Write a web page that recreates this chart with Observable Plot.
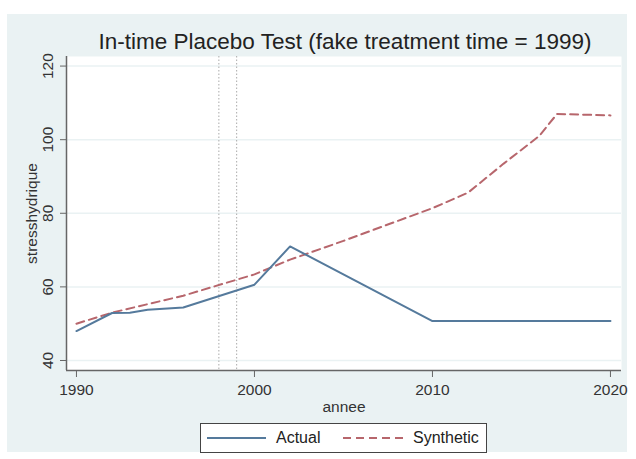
<!DOCTYPE html>
<html><head><meta charset="utf-8">
<script src="https://cdn.jsdelivr.net/npm/d3@7"></script>
<script src="https://cdn.jsdelivr.net/npm/@observablehq/plot@0.6"></script>
<style>
body{margin:0;background:#fff;font-family:"Liberation Sans",Arial,sans-serif;}
#wrap{position:relative;width:636px;height:459px;overflow:hidden;}
#panel{position:absolute;left:7px;top:14px;width:620px;height:438px;background:#eaf2f3;}
#title{position:absolute;left:0;top:29px;width:636px;padding-left:54px;box-sizing:border-box;text-align:center;font-size:22.5px;color:#222;}
#chart{position:absolute;left:0;top:0;}
#legend{position:absolute;left:200px;top:423px;width:285px;height:28px;background:#fff;border:1px solid #444;font-size:16px;color:#222;}
#legend span{position:absolute;top:5px;}
#legend svg{position:absolute;top:0;}
</style></head>
<body><div id="wrap"><div id="panel"></div><div id="chart"></div><div id="title">In-time Placebo Test (fake treatment time = 1999)</div>
<div id="legend"></div></div>
<script>
const actualYears = [1990, 1992, 1993, 1994, 1996, 2000, 2002, 2010, 2020];
const actualValues = [48, 52.9, 53, 53.8, 54.4, 60.6, 71, 50.7, 50.7];
const synthYears = [1990, 1992, 1996, 2000, 2002, 2005, 2010, 2012, 2014, 2016, 2017, 2020];
const synthValues = [50, 53, 57.6, 63.4, 67.4, 72.5, 81.4, 85.6, 93.5, 101, 107, 106.6];
const xTicks = [1990, 2000, 2010, 2020];
const yTicks = [40, 60, 80, 100, 120];
const vLines = [1998, 1999];
const xDomain = [1989.44, 2020.62];
const yDomain = [37.28, 122.6];
const xLabel = "annee";
const yLabel = "stresshydrique";

const actual = actualYears.map((y, i) => ({year: y, value: actualValues[i]}));
const synth = synthYears.map((y, i) => ({year: y, value: synthValues[i]}));

const cActual = "#557a9c", cSynth = "#b7666c";
const font = "Liberation Sans, Arial, sans-serif";

const chart = Plot.plot({
  width: 636, height: 459,
  marginLeft: 66, marginRight: 15, marginTop: 56, marginBottom: 89,
  style: {background: "transparent", fontFamily: font, fontSize: "15.5px", color: "#333"},
  x: {domain: xDomain},
  y: {domain: yDomain},
  marks: [
    Plot.frame({fill: "white", stroke: null}),
    Plot.gridY(yTicks, {stroke: "#eaf2f3", strokeOpacity: 1, strokeWidth: 1.5}),
    Plot.ruleX(vLines, {stroke: "#aaa", strokeDasharray: "1.5,2", strokeWidth: 1}),
    Plot.ruleX([xDomain[0]], {stroke: "#666", strokeWidth: 1.5}),
    Plot.ruleY([yDomain[0]], {stroke: "#666", strokeWidth: 1.5}),
    Plot.axisX({ticks: xTicks, tickFormat: d => String(d), tickSize: 7, tickPadding: 6, stroke: "#666", label: null, fill: "#333", fontSize: 15.5}),
    Plot.axisY({ticks: yTicks, tickSize: 6, tickFormat: () => "", stroke: "#666", label: null}),
    Plot.text(yTicks, {y: d => d, text: d => String(d), frameAnchor: "left", dx: -18.5, rotate: -90, textAnchor: "middle", lineAnchor: "middle", fill: "#333", fontSize: 15.5}),
    Plot.text([yLabel], {text: d => d, frameAnchor: "left", dx: -34, rotate: -90, textAnchor: "middle", lineAnchor: "middle", fill: "#333", fontSize: 15.5}),
    Plot.text([xLabel], {text: d => d, frameAnchor: "bottom", dy: 37, textAnchor: "middle", lineAnchor: "middle", fill: "#333", fontSize: 15.5}),
    Plot.line(synth, {x: "year", y: "value", stroke: cSynth, strokeWidth: 2, strokeDasharray: "8,5"}),
    Plot.line(actual, {x: "year", y: "value", stroke: cActual, strokeWidth: 2})
  ]
});
document.getElementById("chart").appendChild(chart);

const lg = document.getElementById("legend");
lg.innerHTML = `
<svg width="70" height="28" style="left:5px"><line x1="1" x2="60" y1="14" y2="14" stroke="${cActual}" stroke-width="2"/></svg>
<span style="left:75px">Actual</span>
<svg width="80" height="28" style="left:140px"><line x1="2" x2="62" y1="14" y2="14" stroke="${cSynth}" stroke-width="2" stroke-dasharray="8,5"/></svg>
<span style="left:212px">Synthetic</span>`;
</script></body></html>
